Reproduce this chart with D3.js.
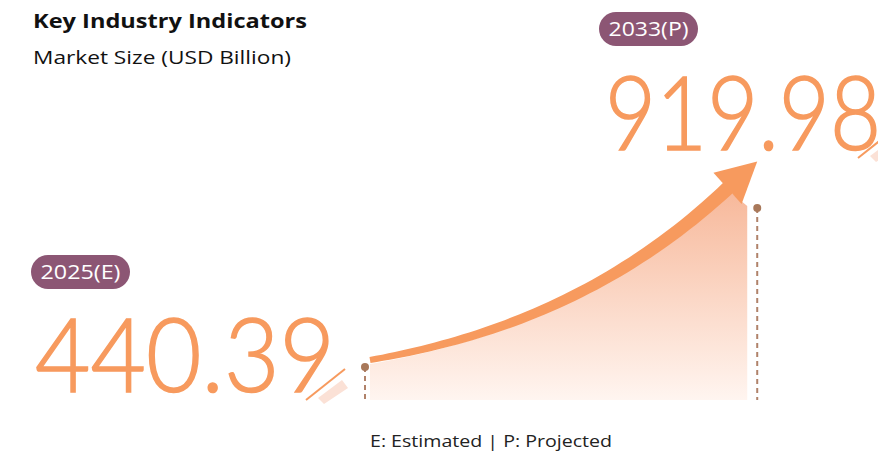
<!DOCTYPE html>
<html>
<head>
<meta charset="utf-8">
<script src="https://cdn.jsdelivr.net/npm/d3@7"></script>
<style>
  body { margin: 0; background: #fff; }
  svg { display: block; font-family: "Open Sans", Lato, sans-serif; }
</style>
</head>
<body>
<svg id="chart" width="878" height="452"></svg>
<script>
// market size, USD billion
const years = [2025, 2033];
const labels = ["2025(E)", "2033(P)"];
const values = [440.39, 919.98];

const orange = "#F79A5E", plum = "#8C5674", brown = "#A8785A";

const svg = d3.select("#chart");
const baseY = 400;

// year -> x, value -> y for the growth curve
const x = d3.scaleLinear().domain(years).range([370, 729]);
const y = d3.scaleLinear().domain(values).range([360, 187]);

const defs = svg.append("defs");
const grad = defs.append("linearGradient")
    .attr("id", "areaGrad")
    .attr("x1", 0).attr("y1", 0).attr("x2", 0).attr("y2", 1);
grad.append("stop").attr("offset", "0%").attr("stop-color", "#F7B89A");
grad.append("stop").attr("offset", "100%").attr("stop-color", "#FFF5F0");

// titles
svg.append("text").attr("x", 33).attr("y", 28)
    .attr("font-size", 20).attr("font-weight", 700).attr("fill", "#111")
    .attr("textLength", 274).attr("lengthAdjust", "spacingAndGlyphs")
    .text("Key Industry Indicators");
svg.append("text").attr("x", 33).attr("y", 64)
    .attr("font-size", 19).attr("fill", "#111")
    .attr("textLength", 258).attr("lengthAdjust", "spacingAndGlyphs")
    .text("Market Size (USD Billion)");

// bezier between the two data points
const p0 = [x(years[0]), y(values[0])], p3 = [x(years[1]), y(values[1])];
const dx = p3[0] - p0[0];
const c1 = [p0[0] + dx * 0.29, p0[1] - 18];
const c2 = [p0[0] + dx * 0.66, p0[1] - 58];
const bez = t => {
    const u = 1 - t;
    return [
        u*u*u*p0[0] + 3*u*u*t*c1[0] + 3*u*t*t*c2[0] + t*t*t*p3[0],
        u*u*u*p0[1] + 3*u*u*t*c1[1] + 3*u*t*t*c2[1] + t*t*t*p3[1]
    ];
};
const ts = d3.range(0, 1.0001, 0.02);
const pts = ts.map(bez);

// arrow head geometry
const end = pts[pts.length - 1], prev = pts[pts.length - 4];
const ang = Math.atan2(end[1] - prev[1], end[0] - prev[0]);
const head = [[38, 0], [-2, -21], [-2, 21]].map(([a, b]) => [
    end[0] + a * Math.cos(ang) - b * Math.sin(ang),
    end[1] + a * Math.sin(ang) + b * Math.cos(ang)
]);
const rightX = head[0][0] - 10;

// area under curve
const area = d3.area()
    .x(d => d[0])
    .y0(baseY)
    .y1(d => d[1] + 4);
svg.append("path")
    .datum(pts.concat([[rightX, head[2][1] - 2]]))
    .attr("d", area)
    .attr("fill", "url(#areaGrad)");

// tapered shaft
const upper = [], lower = [];
ts.forEach((t, i) => {
    const a = pts[Math.max(0, i - 1)], b = pts[Math.min(pts.length - 1, i + 1)];
    const len = Math.hypot(b[0] - a[0], b[1] - a[1]);
    const nx = -(b[1] - a[1]) / len, ny = (b[0] - a[0]) / len;
    const w = 3 + t * 4;
    upper.push([pts[i][0] - nx * w, pts[i][1] - ny * w]);
    lower.push([pts[i][0] + nx * w, pts[i][1] + ny * w]);
});
svg.append("path")
    .attr("d", d3.line()(upper.concat(lower.reverse())) + "Z")
    .attr("fill", orange);
svg.append("path").attr("d", d3.line()(head) + "Z").attr("fill", orange);

// dots with dashed drop lines
const dotPos = [[p0[0] - 5, p0[1] + 7], [head[0][0], head[2][1] + 4]];
dotPos.forEach(d => {
    svg.append("line")
        .attr("x1", d[0]).attr("x2", d[0])
        .attr("y1", d[1]).attr("y2", baseY)
        .attr("stroke", "#B0826A").attr("stroke-width", 2)
        .attr("stroke-dasharray", "5,4");
    svg.append("circle").attr("cx", d[0]).attr("cy", d[1]).attr("r", 4).attr("fill", brown);
});

// big value labels with badges
const lab = [
    { bx: 31, by: 255, tx: 35, ty: 392, w: 300, slash: [306, 400] },
    { bx: 599, by: 12, tx: 605, ty: 150, w: 276, slash: [858, 158] }
];
lab.forEach((l, i) => {
    svg.append("rect")
        .attr("x", l.bx).attr("y", l.by).attr("width", 99).attr("height", 34)
        .attr("rx", 17).attr("fill", plum);
    svg.append("text")
        .attr("x", l.bx + 49.5).attr("y", l.by + 24)
        .attr("text-anchor", "middle").attr("font-size", 20).attr("fill", "#fff")
        .attr("textLength", 80).attr("lengthAdjust", "spacingAndGlyphs")
        .text(labels[i]);
    // slash accent
    const [sx, sy] = l.slash;
    svg.append("path")
        .attr("d", `M${sx + 12},${sy - 2} L${sx + 36},${sy - 20} L${sx + 42},${sy - 12} L${sx + 18},${sy + 4} Z`)
        .attr("fill", "#FBE1D6");
    svg.append("line")
        .attr("x1", sx).attr("y1", sy).attr("x2", sx + 39).attr("y2", sy - 31)
        .attr("stroke", orange).attr("stroke-width", 2);
    svg.append("text")
        .attr("x", l.tx).attr("y", l.ty)
        .attr("font-family", "Lato, sans-serif")
        .attr("font-size", 103).attr("font-weight", 300).attr("fill", orange)
        .attr("stroke", orange).attr("stroke-width", 1.6)
        .attr("textLength", l.w).attr("lengthAdjust", "spacingAndGlyphs")
        .text(values[i].toFixed(2));
});

svg.append("text").attr("x", 491).attr("y", 447)
    .attr("text-anchor", "middle").attr("font-size", 17).attr("fill", "#222")
    .attr("textLength", 242).attr("lengthAdjust", "spacingAndGlyphs")
    .text("E: Estimated | P: Projected");
</script>
</body>
</html>
